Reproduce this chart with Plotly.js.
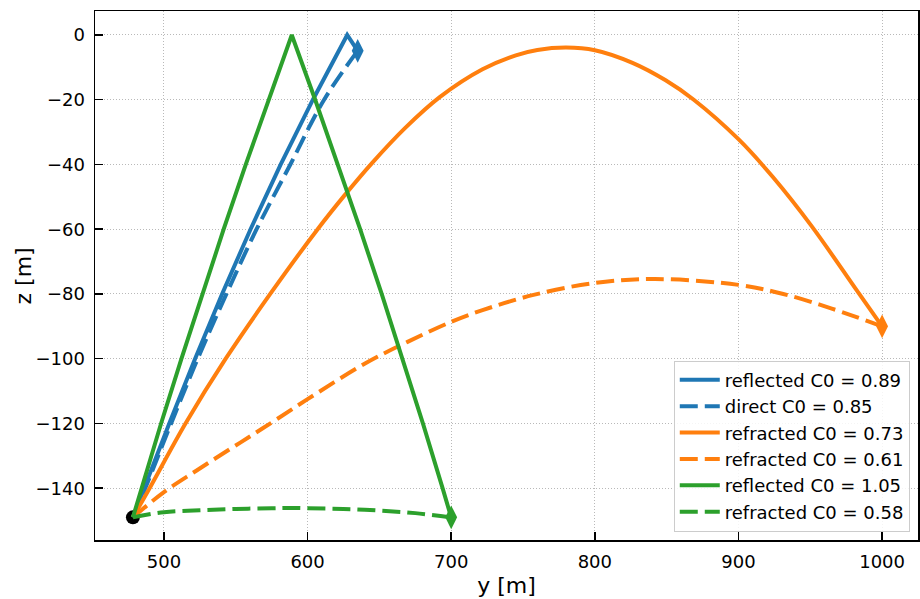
<!DOCTYPE html>
<html>
<head>
<meta charset="utf-8">
<script src="https://cdn.plot.ly/plotly-3.0.1.min.js"></script>
<style>html,body{margin:0;padding:0;background:#fff;}#chart{width:920px;height:599px;}</style>
</head>
<body>
<div id="chart"></div>
<script>
// Source point
var srcY = [478.4];
var srcZ = [-149];

// reflected C0 = 0.89 (blue solid)
var reflBlueY = [478.4, 486.2, 503.7, 521.7, 540.5, 560.3, 581.3, 603.7, 627.6, 634.9];
var reflBlueZ = [-149, -140, -120, -100, -80, -60, -40, -20, 0, -4.9];

// direct C0 = 0.85 (blue dashed)
var directBlueY = [478.4, 487, 505, 523.5, 543.5, 564.5, 588, 611.5, 634.9];
var directBlueZ = [-149, -140, -120, -100, -80, -60, -40, -20, -4.9];

// refracted C0 = 0.73 (orange solid)
var refrOrangeY = [478.4, 490, 515, 543, 574, 607, 626, 645, 668, 692, 721.8, 745, 760, 780, 800, 826.2, 849.3, 868.9, 900, 923.8, 951.2, 982.5, 1000];
var refrOrangeZ = [-149, -140, -120, -100, -80, -60, -49.4, -39.5, -28.7, -19.2, -10.6, -6.3, -4.65, -3.9, -4.7, -8.6, -14.0, -20, -32.2, -43.8, -59.2, -79, -90];

// refracted C0 = 0.61 (orange dashed)
var refr2OrangeY = [478.4, 500, 522.5, 545.7, 568.8, 600, 640, 669.6, 700, 721.8, 757.3, 800, 842, 900, 931.2, 965.5, 1000];
var refr2OrangeZ = [-149, -141.2, -134.6, -128, -121.5, -112.5, -101.5, -94.8, -88.6, -85, -80.3, -76.6, -75.4, -77.2, -80, -84.6, -90];

// reflected C0 = 1.05 (green solid)
var reflGreenY = [478.4, 484.4, 498.0, 512.2, 526.6, 541.6, 557.0, 572.8, 589, 605.3, 621.1, 636.6, 651.6, 666.1, 680.3, 694.0, 700];
var reflGreenZ = [-149, -140, -120, -100, -80, -60, -40, -20, 0, -20, -40, -60, -80, -100, -120, -140, -149];

// refracted C0 = 0.58 (green dashed)
var refrGreenY = [478.4, 500, 525, 550, 575, 589, 600, 625, 650, 675, 700];
var refrGreenZ = [-149, -147.4, -146.8, -146.4, -146.2, -146.1, -146.2, -146.4, -146.9, -147.7, -149];

// receiver end points
var endBlueY = [634.9], endBlueZ = [-4.9];
var endOrangeY = [1000], endOrangeZ = [-90];
var endGreenY = [700], endGreenZ = [-149];

var names = ['reflected C0 = 0.89', 'direct C0 = 0.85', 'refracted C0 = 0.73',
             'refracted C0 = 0.61', 'reflected C0 = 1.05', 'refracted C0 = 0.58'];
var xTitle = 'y [m]', yTitle = 'z [m]';

var BLUE = '#1f77b4', ORANGE = '#ff7f0e', GREEN = '#2ca02c';
var LW = 4, DASH = '18px,7px';

function line(x, y, name, color, dash, shape) {
  return {x: x, y: y, name: name, type: 'scatter', mode: 'lines',
          line: {color: color, width: LW, dash: dash, shape: shape, smoothing: 1}, hoverinfo: 'skip'};
}
function marker(x, y, color, symbol, size) {
  return {x: x, y: y, type: 'scatter', mode: 'markers', showlegend: false,
          marker: {color: color, symbol: symbol, size: size, line: {width: 0}}, hoverinfo: 'skip'};
}

var data = [
  marker(srcY, srcZ, 'black', 'circle', 14),
  line(reflBlueY, reflBlueZ, names[0], BLUE, 'solid', 'linear'),
  line(directBlueY, directBlueZ, names[1], BLUE, DASH, 'spline'),
  line(refrOrangeY, refrOrangeZ, names[2], ORANGE, 'solid', 'spline'),
  line(refr2OrangeY, refr2OrangeZ, names[3], ORANGE, DASH, 'spline'),
  line(reflGreenY, reflGreenZ, names[4], GREEN, 'solid', 'linear'),
  line(refrGreenY, refrGreenZ, names[5], GREEN, DASH, 'spline'),
  marker(endBlueY, endBlueZ, BLUE, 'diamond-tall', 17),
  marker(endOrangeY, endOrangeZ, ORANGE, 'diamond-tall', 17),
  marker(endGreenY, endGreenZ, GREEN, 'diamond-tall', 17)
];

var axisCommon = {
  showline: true, linecolor: 'black', linewidth: 1.5, mirror: true,
  ticks: 'inside', ticklen: 8, tickwidth: 1.5, tickcolor: 'black',
  showgrid: true, gridcolor: '#a8a8a8', gridwidth: 0.8, griddash: '1px,2px',
  zeroline: false, tickfont: {size: 18, color: 'black'},
  ticklabelstandoff: 5
};

var layout = {
  width: 920, height: 599,
  margin: {l: 95, r: 2, t: 11, b: 59},
  paper_bgcolor: 'white', plot_bgcolor: 'white',
  font: {family: 'DejaVu Sans', color: 'black'},
  showlegend: true,
  xaxis: Object.assign({}, axisCommon, {
    range: [452, 1025], tickvals: [500, 600, 700, 800, 900, 1000],
    title: {text: xTitle, font: {size: 22}, standoff: 6}
  }),
  yaxis: Object.assign({}, axisCommon, {
    range: [-156, 7.4], tickvals: [0, -20, -40, -60, -80, -100, -120, -140],
    tickformat: 'd', automargin: false
  }),
  annotations: [{
    text: yTitle, xref: 'paper', yref: 'paper', x: -0.0863, y: 0.5,
    xanchor: 'center', yanchor: 'middle', textangle: -90, showarrow: false,
    font: {size: 22, color: 'black'}
  }],
  legend: {
    x: 0.990, y: 0.016, xanchor: 'right', yanchor: 'bottom',
    bgcolor: 'rgba(255,255,255,0.85)', bordercolor: '#cccccc', borderwidth: 1,
    font: {size: 18}, itemwidth: 40
  }
};

Plotly.newPlot('chart', data, layout, {displayModeBar: false, staticPlot: true});
</script>
</body>
</html>
